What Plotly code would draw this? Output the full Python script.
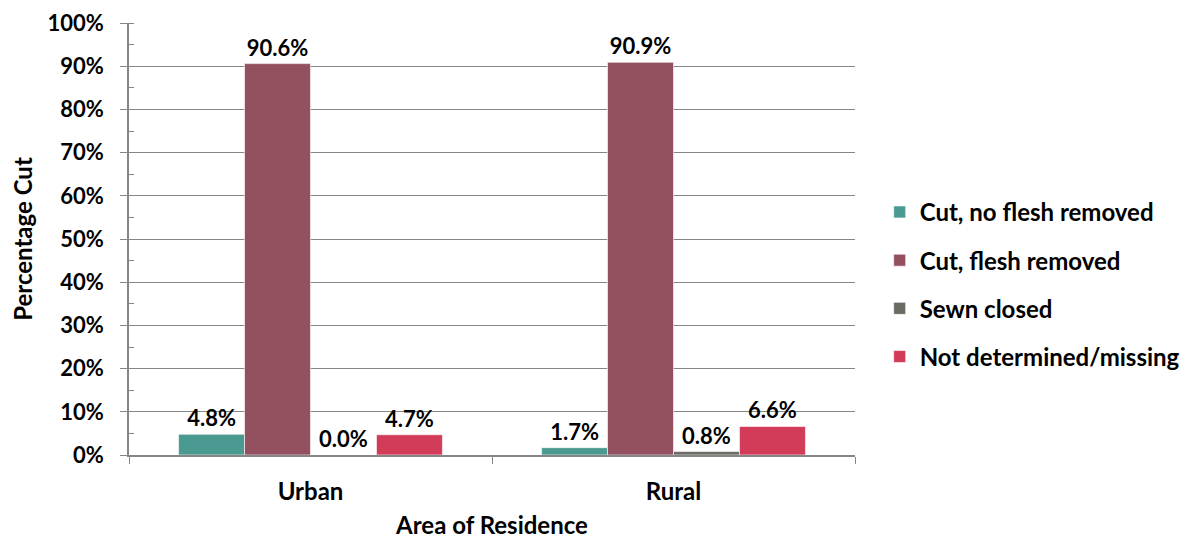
import plotly.graph_objects as go

categories = ["Urban", "Rural"]
series_names = ["Cut, no flesh removed", "Cut, flesh removed", "Sewn closed", "Not determined/missing"]
cut_no_flesh = [4.8, 1.7]
cut_flesh = [90.6, 90.9]
sewn_closed = [0.0, 0.8]
not_determined = [4.7, 6.6]
colors = ["#4A9A91", "#93515F", "#6B6B63", "#D23C58"]
y_ticks = list(range(0, 101, 10))

FONT = "Lato"
fig = go.Figure()
for i, (name, vals) in enumerate(zip(series_names, [cut_no_flesh, cut_flesh, sewn_closed, not_determined])):
    fig.add_trace(go.Bar(
        x=categories, y=vals, name=name, legendgroup=str(i),
        marker=dict(color=colors[i], line=dict(color="rgba(255,255,255,0.6)", width=1)),
        text=[f"{v:.1f}%" for v in vals], textposition="outside",
        textfont=dict(family=FONT, size=22, color="#000000", weight="bold"),
        cliponaxis=False,
    ))

fig.update_layout(
    width=1194, height=531,
    margin=dict(l=121, r=347, t=15, b=84),
    paper_bgcolor="white", plot_bgcolor="white",
    barmode="group", bargap=0.273, bargroupgap=0,
    font=dict(family=FONT, size=22, color="#000000"),
    legend=dict(x=1.034, y=0.395, xanchor="left", yanchor="middle",
                font=dict(family=FONT, size=24, color="#000000", weight="bold"),
                tracegroupgap=14, traceorder="grouped"),
)
fig.update_xaxes(
    automargin=False,
    showline=True, linecolor="#868686", linewidth=1.5,
    ticks="outside", tickson="boundaries", ticklen=7, tickcolor="#868686",
    ticklabelstandoff=14,
    tickfont=dict(family=FONT, size=24, weight="bold"),
    title=dict(text="Area of Residence", font=dict(family=FONT, size=24, weight="bold"), standoff=18),
    showgrid=False,
)
fig.update_yaxes(
    automargin=False,
    range=[0, 100], tickvals=y_ticks, ticktext=[f"{t}%" for t in y_ticks],
    showline=True, linecolor="#868686", linewidth=1.5,
    showgrid=True, gridcolor="#868686", gridwidth=1.2,
    ticks="outside", ticklen=7, tickcolor="#868686",
    ticklabelstandoff=12,
    minor=dict(dtick=5, ticks="inside", ticklen=5, tickcolor="#868686", showgrid=False),
    tickfont=dict(family=FONT, size=22, weight="bold"),
    title=dict(text="Percentage Cut", font=dict(family=FONT, size=24, weight="bold"), standoff=16),
    zeroline=False,
)
fig.write_html("out.html")
